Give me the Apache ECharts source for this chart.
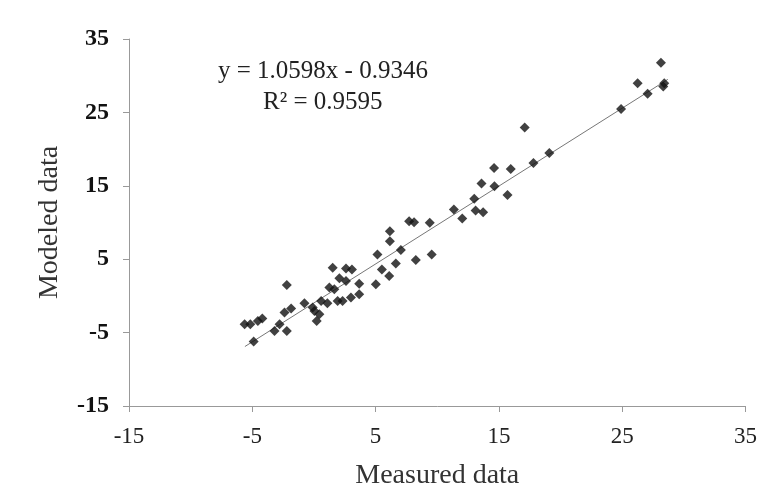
<!DOCTYPE html>
<html>
<head>
<meta charset="utf-8">
<script src="https://cdn.jsdelivr.net/npm/echarts@6/dist/echarts.min.js"></script>
<style>html,body{margin:0;padding:0;background:#fff;}#c{width:760px;height:495px;}</style>
</head>
<body>
<div id="c"></div>
<script>
const measured = [-5.62,-5.16,-4.55,-4.19,-4.89,-3.20,-2.79,-2.20,-2.39,-1.85,-2.20,-0.77,-0.10,0.04,0.22,0.44,0.58,1.09,1.92,2.32,3.00,3.67,1.25,1.65,2.06,2.60,3.67,1.52,2.60,3.08,5.02,5.15,5.51,6.10,6.64,7.05,6.16,6.16,8.26,9.55,7.72,8.12,9.39,11.35,12.03,13.11,13.72,13.00,13.59,14.64,15.70,14.61,15.96,17.80,19.09,17.09,24.91,26.25,27.06,28.41,28.33,28.14];
const modeled = [-3.86,-3.86,-3.41,-3.08,-6.21,-4.77,-3.86,-4.77,-2.27,-1.73,1.48,-1.01,-1.59,-2.05,-3.41,-2.50,-0.69,-1.01,-0.69,-0.69,-0.23,0.22,1.13,0.90,2.39,2.02,1.67,3.85,3.75,3.61,1.58,5.65,3.61,2.70,4.43,6.24,7.46,8.82,4.88,5.65,10.18,10.04,9.96,11.77,10.54,11.63,11.40,13.22,15.30,14.93,13.76,17.43,17.30,18.11,19.47,22.95,25.45,28.98,27.53,28.98,28.52,31.78];
const trendX = [-5.6, 28.7];
const trendY = [-6.9, 29.5];
const axisTicks = [-15, -5, 5, 15, 25, 35];
const equationText = 'y = 1.0598x - 0.9346';
const r2Text = 'R² = 0.9595';

const points = measured.map((x, i) => [x, modeled[i]]);
const trend = trendX.map((x, i) => [x, trendY[i]]);
const font = '"Liberation Serif", "Times New Roman", serif';

const chart = echarts.init(document.getElementById('c'));
chart.setOption({
  animation: false,
  backgroundColor: '#fff',
  grid: { left: 129, right: 13, top: 39, bottom: 87 },
  xAxis: {
    type: 'value', min: axisTicks[0], max: axisTicks[axisTicks.length-1], interval: 10,
    name: 'Measured data', nameLocation: 'middle', nameGap: 56,
    nameTextStyle: { fontFamily: font, fontSize: 28, color: '#333' },
    axisLine: { show: true, onZero: false, lineStyle: { color: '#999', width: 1 } },
    axisTick: { show: true, length: 6, lineStyle: { color: '#999' } },
    axisLabel: { fontFamily: font, fontSize: 23, color: '#222', margin: 19 },
    splitLine: { show: false }
  },
  yAxis: {
    type: 'value', min: axisTicks[0], max: axisTicks[axisTicks.length-1], interval: 10,
    name: 'Modeled data', nameLocation: 'middle', nameGap: 65, nameRotate: 90,
    nameTextStyle: { fontFamily: font, fontSize: 28, color: '#333' },
    axisLine: { show: true, onZero: false, lineStyle: { color: '#999', width: 1 } },
    axisTick: { show: true, length: 6, lineStyle: { color: '#999' } },
    axisLabel: { fontFamily: font, fontSize: 24, fontWeight: 'bold', color: '#111', margin: 20 },
    splitLine: { show: false }
  },
  graphic: [
    { type: 'text', left: 218, top: 59, style: { text: equationText, font: '25px ' + font, fill: '#222' } },
    { type: 'text', left: 263, top: 90, style: { text: r2Text, font: '25px ' + font, fill: '#222' } }
  ],
  series: [
    { type: 'line', data: trend, symbol: 'none', lineStyle: { color: '#777', width: 1 }, z: 1 },
    { type: 'scatter', data: points, symbol: 'diamond', symbolSize: 10, itemStyle: { color: '#111' }, z: 2 }
  ]
});
</script>
</body>
</html>
